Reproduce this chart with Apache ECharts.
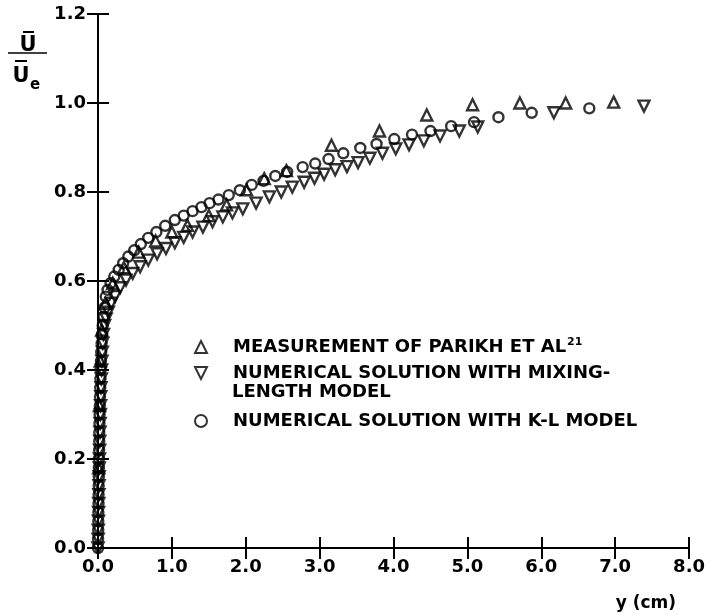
<html>
<head>
<meta charset="utf-8">
<title>U/Ue profile</title>
<script src="https://cdn.jsdelivr.net/npm/echarts@6/dist/echarts.min.js"></script>
<style>
  html, body { margin: 0; padding: 0; background: #fff; }
</style>
</head>
<body>
	<div id="main" style="width: 708px; height: 615px;"></div>
	<script type="text/javascript">
		// y (cm) and U/Ue
		var measX = [0.01, 0.02, 0.03, 0.05, 0.1, 0.2, 0.35, 0.55, 0.78, 1.0, 1.21, 1.5, 1.74, 2.01, 2.25, 2.55, 3.16, 3.81, 4.45, 5.07, 5.71, 6.33, 6.98];
		var measY = [0.18, 0.32, 0.42, 0.49, 0.55, 0.595, 0.63, 0.665, 0.69, 0.71, 0.725, 0.747, 0.771, 0.805, 0.83, 0.848, 0.905, 0.937, 0.973, 0.996, 1.0, 1.0, 1.002];

		var mixX = [0.0, 0.002, 0.004, 0.006, 0.008, 0.01, 0.012, 0.014, 0.016, 0.018, 0.02, 0.022, 0.024, 0.027, 0.029, 0.032, 0.035, 0.038, 0.041, 0.045, 0.049, 0.054, 0.059, 0.065, 0.075, 0.09, 0.11, 0.14, 0.18, 0.23, 0.3, 0.38, 0.47, 0.57, 0.68, 0.8, 0.92, 1.04, 1.16, 1.28, 1.42, 1.55, 1.69, 1.82, 1.96, 2.14, 2.32, 2.48, 2.63, 2.79, 2.93, 3.06, 3.21, 3.37, 3.52, 3.68, 3.85, 4.03, 4.21, 4.41, 4.63, 4.89, 5.14, 6.17, 7.39];
		var mixY = [0.0, 0.02, 0.04, 0.06, 0.08, 0.1, 0.12, 0.14, 0.16, 0.18, 0.2, 0.22, 0.24, 0.26, 0.28, 0.3, 0.32, 0.34, 0.36, 0.38, 0.4, 0.42, 0.44, 0.46, 0.48, 0.5, 0.515, 0.53, 0.55, 0.565, 0.585, 0.602, 0.617, 0.632, 0.647, 0.661, 0.673, 0.686, 0.698, 0.71, 0.721, 0.733, 0.744, 0.753, 0.762, 0.775, 0.789, 0.8, 0.811, 0.822, 0.831, 0.84, 0.85, 0.857, 0.866, 0.876, 0.887, 0.897, 0.906, 0.915, 0.926, 0.937, 0.946, 0.978, 0.993];

		var klX = [0.0, 0.001, 0.003, 0.004, 0.005, 0.007, 0.008, 0.009, 0.011, 0.012, 0.013, 0.015, 0.017, 0.018, 0.02, 0.022, 0.025, 0.027, 0.03, 0.033, 0.036, 0.04, 0.044, 0.049, 0.056, 0.064, 0.075, 0.088, 0.105, 0.13, 0.17, 0.22, 0.28, 0.34, 0.41, 0.49, 0.58, 0.68, 0.79, 0.91, 1.04, 1.16, 1.28, 1.4, 1.51, 1.63, 1.77, 1.92, 2.08, 2.24, 2.4, 2.56, 2.77, 2.94, 3.12, 3.32, 3.55, 3.77, 4.01, 4.25, 4.5, 4.78, 5.09, 5.42, 5.87, 6.65];
		var klY = [0.0, 0.02, 0.04, 0.06, 0.08, 0.1, 0.12, 0.14, 0.16, 0.18, 0.2, 0.22, 0.24, 0.26, 0.28, 0.3, 0.32, 0.34, 0.36, 0.38, 0.4, 0.42, 0.44, 0.46, 0.48, 0.5, 0.52, 0.54, 0.565, 0.58, 0.595, 0.61, 0.625, 0.64, 0.655, 0.669, 0.683, 0.697, 0.71, 0.724, 0.737, 0.747, 0.757, 0.766, 0.775, 0.783, 0.793, 0.804, 0.816, 0.825, 0.836, 0.845, 0.856, 0.864, 0.874, 0.887, 0.899, 0.908, 0.919, 0.929, 0.937, 0.948, 0.957, 0.968, 0.978, 0.988];

		var nameMeas = 'MEASUREMENT OF PARIKH ET AL';
		var nameMix = 'NUMERICAL SOLUTION WITH MIXING-';
		var nameKL = 'NUMERICAL SOLUTION WITH K-L MODEL';

		function pairs(xs, ys) {
			var out = [];
			for (var i = 0; i < xs.length; i++) {
				out.push([xs[i], ys[i]]);
			}
			return out;
		}

		var font = 'DejaVu Sans';
		var markStyle = { color: 'transparent', borderColor: '#000', borderWidth: 2.4 };
		var lineStyle = { color: '#000', width: 2 };

		function legendAt(item, top, fmt) {
			return {
				data: [item],
				left: 194,
				top: top,
				padding: 0,
				itemWidth: 12,
				itemHeight: 12,
				selectedMode: false,
				formatter: fmt,
				itemStyle: { color: 'transparent', borderColor: '#000', borderWidth: 2 },
				textStyle: {
					fontFamily: font,
					fontWeight: 'bold',
					fontSize: 18,
					color: '#000',
					lineHeight: 20,
					padding: [0, 0, 0, 21],
					rich: {
						t: { fontFamily: font, fontWeight: 'bold', fontSize: 18, color: '#000', lineHeight: 20 },
						s: { fontFamily: font, fontWeight: 'bold', fontSize: 11, color: '#000', lineHeight: 20, padding: [0, 0, 9, 1] }
					}
				}
			};
		}

		var myChart = echarts.init(document.getElementById('main'));

		myChart.setOption({
			animation: false,
			grid: { left: 98, right: 17, top: 14, bottom: 67 },
			legend: [
				legendAt({ name: nameMeas, icon: 'triangle' }, 337, '{t|' + nameMeas + '}{s|21}'),
				legendAt({ name: nameMix, icon: 'path://M0,0L12,0L6,12Z' }, 363),
				legendAt({ name: nameKL, icon: 'circle' }, 411)
			],
			xAxis: [{
				type: 'value',
				min: 0,
				max: 8,
				interval: 1,
				name: 'y (cm)',
				nameLocation: 'end',
				nameGap: 0,
				nameTextStyle: { fontFamily: font, fontWeight: 'bold', fontSize: 17, color: '#000', align: 'right', verticalAlign: 'top', padding: [47, 13, 0, 0] },
				axisLine: { lineStyle: lineStyle },
				axisTick: { inside: true, length: 11, lineStyle: lineStyle },
				splitLine: { show: false },
				axisLabel: {
					margin: 10,
					fontFamily: font, fontWeight: 'bold', fontSize: 18, color: '#000',
					formatter: function (v) { return v.toFixed(1); }
				}
			}, {
				type: 'value',
				position: 'top',
				min: 0,
				max: 8,
				interval: 1,
				axisLine: { lineStyle: lineStyle },
				axisTick: { inside: true, length: 11, lineStyle: lineStyle },
				splitLine: { show: false },
				axisLabel: { show: false }
			}],
			yAxis: [{
				type: 'value',
				min: 0,
				max: 1.2,
				interval: 0.2,
				axisLine: { lineStyle: lineStyle },
				axisTick: { inside: true, length: 11, lineStyle: lineStyle },
				splitLine: { show: false },
				axisLabel: {
					margin: 12,
					fontFamily: font, fontWeight: 'bold', fontSize: 18, color: '#000',
					formatter: function (v) { return v.toFixed(1); }
				}
			}, {
				type: 'value',
				position: 'right',
				min: 0,
				max: 1.2,
				interval: 0.2,
				axisLine: { lineStyle: lineStyle },
				axisTick: { inside: true, length: 11, lineStyle: lineStyle },
				splitLine: { show: false },
				axisLabel: { show: false }
			}],
			graphic: [
				{ type: 'text', left: 232, top: 383, style: { text: 'LENGTH MODEL', font: 'bold 18px "DejaVu Sans"', fill: '#000' } },
				// y-axis title: U-bar over U-bar e
				{ type: 'text', x: 28, y: 46, style: { text: 'U', font: 'bold 21px "DejaVu Sans"', fill: '#000', align: 'center', verticalAlign: 'middle' } },
				{ type: 'line', shape: { x1: 23, y1: 32, x2: 34, y2: 32 }, style: { stroke: '#000', lineWidth: 2 } },
				{ type: 'line', shape: { x1: 8, y1: 53, x2: 47, y2: 53 }, style: { stroke: '#000', lineWidth: 1.5 } },
				{ type: 'line', shape: { x1: 15, y1: 61, x2: 27, y2: 61 }, style: { stroke: '#000', lineWidth: 2 } },
				{ type: 'text', x: 21, y: 77, style: { text: 'U', font: 'bold 21px "DejaVu Sans"', fill: '#000', align: 'center', verticalAlign: 'middle' } },
				{ type: 'text', x: 35, y: 85, style: { text: 'e', font: 'bold 15px "DejaVu Sans"', fill: '#000', align: 'center', verticalAlign: 'middle' } }
			],
			series: [{
				name: nameMeas,
				type: 'scatter',
				symbol: 'triangle',
				symbolSize: 11,
				itemStyle: markStyle,
				data: pairs(measX, measY)
			}, {
				name: nameMix,
				type: 'scatter',
				symbol: 'triangle',
				symbolRotate: 180,
				symbolSize: 11,
				itemStyle: markStyle,
				data: pairs(mixX, mixY)
			}, {
				name: nameKL,
				type: 'scatter',
				symbol: 'circle',
				symbolSize: 10,
				itemStyle: markStyle,
				data: pairs(klX, klY)
			}]
		});
	</script>
</body>
</html>
